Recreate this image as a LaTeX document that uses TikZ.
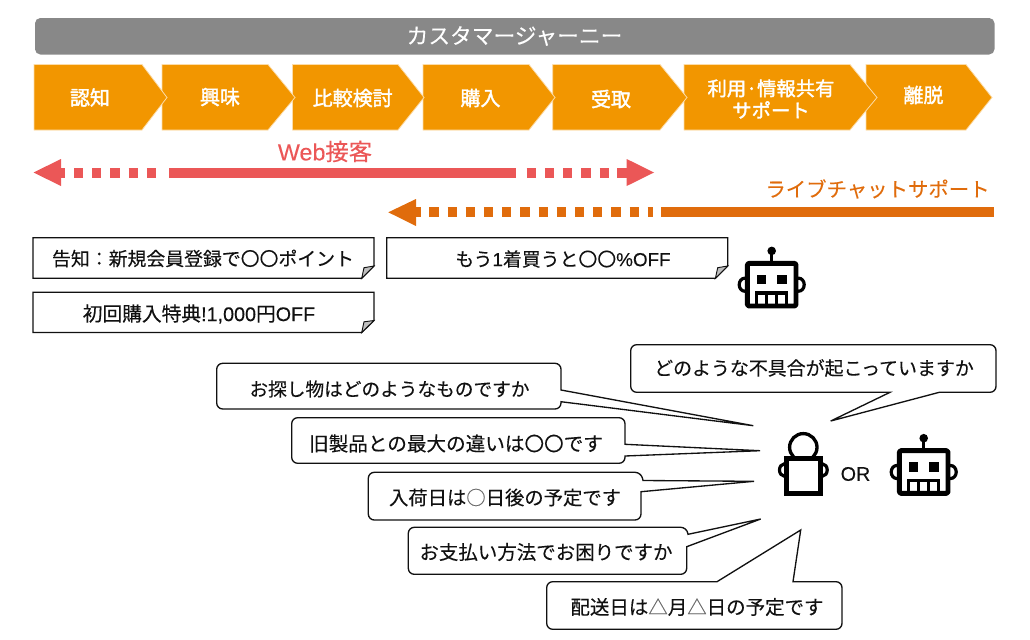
\documentclass[tikz,border=0pt]{standalone}
\usepackage{fontspec}
\setmainfont[FakeBold=0.2]{Noto Sans CJK JP}
\newfontfamily\lat[FakeBold=0.2]{Liberation Sans}
\newfontfamily\chevfont[FakeBold=1.8]{Noto Sans CJK JP}
\definecolor{chev}{HTML}{F29600}
\definecolor{chevedge}{HTML}{FCDCA8}
\definecolor{barg}{HTML}{888888}
\definecolor{redc}{HTML}{EB5757}
\definecolor{orc}{HTML}{E06C0C}
\definecolor{ink}{HTML}{111111}
\tikzset{
  chevshape/.style={fill=chev,draw=chevedge,line width=0.6pt,line join=miter},
  chevtext/.style={text=white,font=\chevfont\fontsize{15}{16.5}\selectfont,align=center,inner sep=0pt},
  notebox/.style={fill=white,draw=ink,line width=1pt,line join=miter},
  foldtri/.style={fill=black!25,draw=ink,line width=0.7pt},
  bubble/.style={fill=white,draw=ink,line width=1pt},
  bodytext/.style={text=ink,font=\fontsize{#1}{16}\selectfont,inner sep=0pt},
  robotline/.style={draw=black,line width=3.7pt,line join=round},
  robotpic/.pic={
    \draw[draw=black,line width=2.4pt] (-27,0) ellipse[x radius=5.5,y radius=6.5];
    \draw[draw=black,line width=2.4pt] (27,0) ellipse[x radius=5.5,y radius=6.5];
    \draw[black,line width=2.5pt] (0,-33) -- (0,-22);
    \fill[black] (0,-33.8) circle[radius=4.3];
    \draw[robotline,fill=white,rounded corners=1pt] (-24.3,-21.3) rectangle (24.3,21.3);
    \fill[black] (-15,-9.7) rectangle (-5.7,-0.4);
    \fill[black] (5.7,-9.7) rectangle (15,-0.4);
    \fill[black] (-16.7,6.5) rectangle (16.7,10);
    \foreach \tx in {-15,-5,5,15}{\fill[black] (\tx-1.7,6.5) rectangle (\tx+1.7,22);}
  }
}
\begin{document}
\begin{tikzpicture}[x=0.75pt,y=-0.75pt]
\useasboundingbox (0,0) rectangle (1030,639);
% title bar
\fill[barg,rounded corners=4pt] (35,18) rectangle (994.5,54.5);
\node[text=white,font=\fontsize{16.3}{18}\selectfont,inner sep=0pt] (title) at (514.5,36) {カスタマージャーニー};
% chevrons, right to left so that each tip lies over its neighbour
\draw[chevshape] (866,64.5) -- (966,64.5) -- (992,97.5) -- (966,130) -- (866,130) -- cycle;
\draw[chevshape] (684,64.5) -- (850,64.5) -- (877,97.5) -- (850,130) -- (684,130) -- cycle;
\draw[chevshape] (552.7,64.5) -- (660,64.5) -- (687,97.5) -- (660,130) -- (552.7,130) -- cycle;
\draw[chevshape] (423,64.5) -- (529,64.5) -- (555,97.5) -- (529,130) -- (423,130) -- cycle;
\draw[chevshape] (292.5,64.5) -- (398,64.5) -- (424,97.5) -- (398,130) -- (292.5,130) -- cycle;
\draw[chevshape] (162,64.5) -- (268,64.5) -- (295,97.5) -- (268,130) -- (162,130) -- cycle;
\draw[chevshape] (34,64.5) -- (142,64.5) -- (167,97.5) -- (142,130) -- (34,130) -- cycle;
\node[chevtext] (c1) at (90,97.5) {認知};
\node[chevtext] (c2) at (220,97) {興味};
\node[chevtext] (c3) at (352.7,98) {比較検討};
\node[chevtext] (c4) at (480.5,98) {購入};
\node[chevtext] (c5) at (611,99) {受取};
\node[chevtext,font=\chevfont\fontsize{14.5}{16.5}\selectfont] (c6) at (771,99) {利用·情報共有\\サポート};
\node[chevtext] (c7) at (923.5,95) {離脱};
% Web arrow
\fill[redc] (33.5,172.5) -- (61,159) -- (61,186) -- cycle;
\fill[redc] (60,167.5) rectangle (65,177.5);
\draw[redc,line width=7.5pt,dash pattern=on 6.9pt off 6.75pt] (74,172.5) -- (156,172.5);
\fill[redc] (169,167.5) rectangle (516,177.5);
\draw[redc,line width=7.5pt,dash pattern=on 6.9pt off 6.75pt] (526.7,172.5) -- (609,172.5);
\fill[redc] (617.3,167.5) rectangle (627.5,177.5);
\fill[redc] (654,172.5) -- (626.7,159) -- (626.7,186) -- cycle;
\node[text=redc,font=\fontsize{17.5}{18}\selectfont,inner sep=0pt] (web) at (325,151.5) {{\lat Web}接客};
% live chat arrow
\fill[orc] (388.3,212.3) -- (416,199) -- (416,226) -- cycle;
\fill[orc] (415,207.3) rectangle (420.7,217.3);
\draw[orc,line width=7.5pt,dash pattern=on 6.9pt off 6.75pt] (429.3,212.3) -- (653.3,212.3);
\fill[orc] (661,207.3) rectangle (993.5,217.3);
\node[text=orc,font=\fontsize{15.3}{18}\selectfont,inner sep=0pt] (chat) at (877.5,189) {ライブチャットサポート};
% note boxes
\draw[notebox] (33,237.7) -- (374,237.7) -- (374,266) -- (361.7,278.3) -- (33,278.3) -- cycle;
\draw[foldtri] (361.7,278.3) -- (374,266) -- (364,267.7) -- cycle;
\node[bodytext=14.15] (n1) at (203,258.5) {告知：新規会員登録で〇〇ポイント};
\draw[notebox] (33,292.3) -- (374,292.3) -- (374,320.5) -- (361.7,332.5) -- (33,332.5) -- cycle;
\draw[foldtri] (361.7,332.5) -- (374,320.5) -- (364,321.8) -- cycle;
\node[bodytext=14.8] (n2) at (199,314) {初回購入特典{\lat !1,000}円{\lat OFF}};
\draw[notebox] (386.7,237.7) -- (727.7,237.7) -- (727.7,266) -- (715.4,278.3) -- (386.7,278.3) -- cycle;
\draw[foldtri] (715.4,278.3) -- (727.7,266) -- (717.7,267.7) -- cycle;
\node[bodytext=14.15] (n3) at (563,259) {もう{\lat 1}着買うと〇〇{\lat \%OFF}};
% robots
\pic at (771.7,284.7) {robotpic};
\pic at (923.7,472) {robotpic};
% speech bubbles
\draw[bubble,rounded corners=4.5pt] (216.7,363.3) -- (561,363.3) [sharp corners] -- (561,390) -- (753.3,425.7) -- (561,401.7) [rounded corners=4.5pt] -- (561,409) -- (216.7,409) -- cycle;
\node[bodytext=14] (b1) at (389.5,389) {お探し物はどのようなものですか};
\draw[bubble,rounded corners=4.5pt] (291.7,417.7) -- (625,417.7) [sharp corners] -- (625,444.3) -- (760,450.7) -- (625,456) [rounded corners=4.5pt] -- (625,463.3) -- (291.7,463.3) -- cycle;
\node[bodytext=14.7] (b2) at (456,443.5) {旧製品との最大の違いは〇〇です};
\draw[bubble,rounded corners=4.5pt] (368.3,472.3) -- (641,472.3) [sharp corners] -- (643,480.5) -- (754,481.3) -- (641,491.7) [rounded corners=4.5pt] -- (641,520) -- (368.3,520) -- cycle;
\node[bodytext=14.5] (b3) at (505,497.5) {入荷日は{\color{black!60}○}日後の予定です};
\draw[bubble,rounded corners=4.5pt] (408.3,527.3) -- (686.7,527.3) [sharp corners] -- (688,534.3) -- (760.7,519) -- (686.7,546.7) [rounded corners=4.5pt] -- (686.7,574.3) -- (408.3,574.3) -- cycle;
\node[bodytext=14.6] (b4) at (546,552) {お支払い方法でお困りですか};
\draw[bubble,rounded corners=4.5pt] (546.7,581.7) [sharp corners] -- (717,581.7) -- (800.7,530) -- (793,581.7) [rounded corners=4.5pt] -- (842,581.7) -- (842,629.3) -- (546.7,629.3) -- cycle;
\node[bodytext=14.6] (b5) at (697,607) {配送日は{\color{black!60}△}月{\color{black!60}△}日の予定です};
\draw[bubble,rounded corners=4.5pt] (630.7,344.7) -- (996,344.7) -- (996,392.3) [sharp corners] -- (939.3,392.3) -- (830.7,421) -- (890,392.3) [rounded corners=4.5pt] -- (630.7,392.3) -- cycle;
\node[bodytext=14.2] (b6) at (814,368) {どのような不具合が起こっていますか};
% person
\draw[draw=black,line width=2.4pt] (784,470) ellipse[x radius=4.5,y radius=6];
\draw[draw=black,line width=2.4pt] (822.7,470) ellipse[x radius=4.5,y radius=6];
\draw[draw=black,line width=2.5pt,fill=white] (803.3,447.3) circle[radius=13.7];
\draw[robotline,fill=white,line join=miter] (786.4,458.4) rectangle (820.3,493.6);
\node[text=ink,font=\lat\fontsize{14.8}{16}\selectfont,inner sep=0pt] (ortext) at (855.5,474) {OR};
\end{tikzpicture}
\end{document}
